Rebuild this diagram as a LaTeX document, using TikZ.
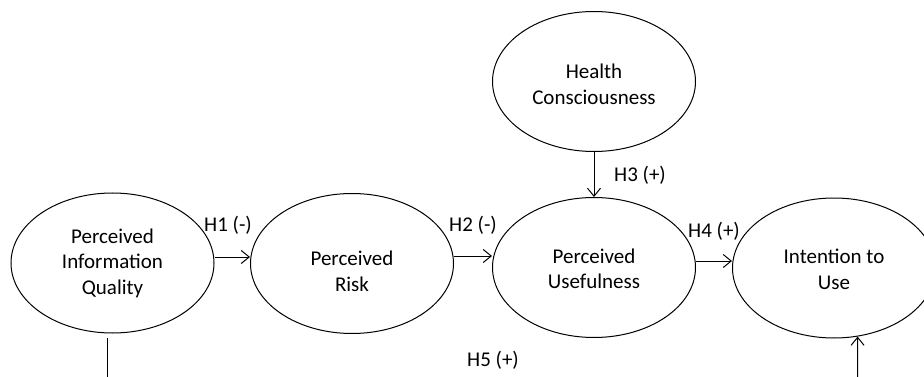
\documentclass[tikz,border=0pt]{standalone}
\usepackage{fontspec}
\setmainfont{Carlito}
\usetikzlibrary{arrows.meta,shapes.geometric,positioning}
\tikzset{
    construct/.style={
           ellipse,
           draw=black,
           line width=1pt,
           minimum width=203pt,
           minimum height=140pt,
           inner sep=0pt,
           align=center,
           },
    hyp/.style={inner sep=0pt},
}

\begin{document}
\begin{tikzpicture}[
  x=1pt,y=-1pt,
  ->,>={Straight Barb[length=8pt,width=13pt]},
  line width=1pt,
  font=\fontsize{21}{25.5}\selectfont]
\useasboundingbox (0,0) rectangle (924,377);
\node[construct](piq) at (112.5,263){Perceived\\Information\\Quality};
\node[construct,text height=56pt](risk) at (352,263.5){Perceived\\Risk};
\node[construct,text height=43pt](pu) at (594,267.5){Perceived\\Usefulness};
\node[construct,text height=46pt](hc) at (594,81.5){Health\\Consciousness};
\node[construct,text height=43pt](itu) at (834,268){Intention to\\Use};
\coordinate (h5a) at (107,395);
\coordinate (h5b) at (857.5,395);

\node[hyp] (h1) at (228,225){H1 (-)};
\node[hyp] (h2) at (473,225){H2 (-)};
\node[hyp] (h3) at (640,175){H3 (+)};
\node[hyp] (h4) at (714,231){H4 (+)};
\node[hyp] (h5) at (493,360){H5 (+)};

\draw (piq.east |- 0,257) -- (risk.west |- 0,257);
\draw (risk.east |- 0,256) -- (pu.west |- 0,256);
\draw (hc.south) -- (pu.north);
\draw (pu.east |- 0,261) -- (itu.west |- 0,261);
\draw[-] (h5a) -- (h5a |- 0,338);
\draw (h5b) -- (itu.-71);
\end{tikzpicture}
\end{document}
